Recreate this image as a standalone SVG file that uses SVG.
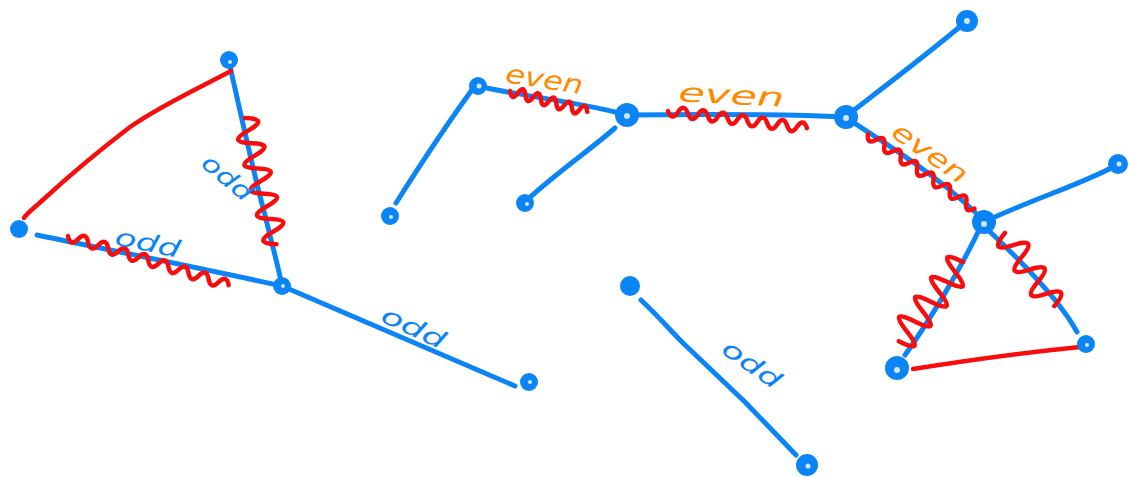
<svg xmlns="http://www.w3.org/2000/svg" width="1129" height="477" viewBox="0 0 1129 477">
<style>
.e{fill:none;stroke:#0b84f6;stroke-width:5;stroke-linecap:round;stroke-linejoin:round}
.r{fill:none;stroke:#f70d0d;stroke-width:4.5;stroke-linecap:round;stroke-linejoin:round}
.n{fill:#0b84f6}
.h{fill:#ffffff;opacity:0.8}
.odd{font-family:"DejaVu Sans",sans-serif;font-size:24px;fill:#0b84f6;font-style:italic}
.even{font-family:"DejaVu Sans",sans-serif;font-size:26px;fill:#ff8a00;font-style:italic}
</style>
<rect width="1129" height="477" fill="#ffffff"/>
<g id="connectors">
  <path class="e" d="M229,62 C240,110 255,180 265,215 C272,245 278,265 282,286"/>
  <path class="e" d="M37,235 C110,250 200,268 282,286"/>
  <path class="e" d="M282,286 C350,315 430,350 515,386"/>
  <path class="e" d="M474,87 C450,120 420,165 396,203"/>
  <path class="e" d="M478,86 C520,96 580,102 627,115"/>
  <path class="e" d="M615,128 C590,150 560,170 527,200"/>
  <path class="e" d="M627,115 C700,114 780,114 845,117"/>
  <path class="e" d="M845,117 C880,90 920,60 962,25"/>
  <path class="e" d="M845,117 C880,140 930,170 975,212"/>
  <path class="e" d="M984,222 C1030,200 1080,185 1115,166"/>
  <path class="e" d="M980,228 C960,270 930,320 905,355"/>
  <path class="e" d="M986,228 C1020,260 1060,300 1077,332"/>
  <path class="e" d="M641,300 C660,318 670,330 683,343 L745,402 L796,455"/>
  <path class="r" d="M231,71 C195,90 160,106 130,127 C100,150 70,175 45,198 C32,210 26,214 24,218"/>
  <path class="r" d="M913,369 C970,360 1030,352 1080,347"/>
  <path class="r" transform="translate(245,118) rotate(76)" d="M0,0 q6.5,-24 13,0 t13,0 t13,0 t13,0 t13,0 t13,0 t13,0 t13,0 t13,0 t13,0"/>
  <path class="r" transform="translate(68,236) rotate(17)" d="M0,0 q5.25,10 10.5,0 t10.5,0 t10.5,0 t10.5,0 t10.5,0 t10.5,0 t10.5,0 t10.5,0 t10.5,0 t10.5,0 t10.5,0 t10.5,0 t10.5,0 t10.5,0 t10.5,0 t10.5,0"/>
  <path class="r" transform="translate(510,91) rotate(15)" d="M0,0 q4,10 8,0 t8,0 t8,0 t8,0 t8,0 t8,0 t8,0 t8,0 t8,0 t8,0"/>
  <path class="r" transform="translate(668,111) rotate(7)" d="M0,0 q5,10 10,0 t10,0 t10,0 t10,0 t10,0 t10,0 t10,0 t10,0 t10,0 t10,0 t10,0 t10,0 t10,0 t10,0"/>
  <path class="r" transform="translate(868,134) rotate(35)" d="M0,0 q5,10 10,0 t10,0 t10,0 t10,0 t10,0 t10,0 t10,0 t10,0 t10,0 t10,0 t10,0 t10,0 t10,0"/>
  <path class="r" transform="translate(963,262) rotate(129)" d="M0,0 q6.4,30 12.75,0 t12.75,0 t12.75,0 t12.75,0 t12.75,0 t12.75,0 t12.75,0 t12.75,0"/>
  <path class="r" transform="translate(1005,233) rotate(56)" d="M0,0 q7.3,26 14.7,0 t14.7,0 t14.7,0 t14.7,0 t14.7,0 t14.7,0"/>
  <text class="odd" transform="translate(222,184) rotate(40)" text-anchor="middle" textLength="58" lengthAdjust="spacingAndGlyphs">odd</text>
  <text class="odd" transform="translate(146,251) rotate(12)" text-anchor="middle" textLength="66" lengthAdjust="spacingAndGlyphs">odd</text>
  <text class="odd" transform="translate(410,335) rotate(25)" text-anchor="middle" textLength="68" lengthAdjust="spacingAndGlyphs">odd</text>
  <text class="odd" transform="translate(747,371) rotate(35)" text-anchor="middle" textLength="66" lengthAdjust="spacingAndGlyphs">odd</text>
  <text class="even" transform="translate(543,88) rotate(9)" text-anchor="middle" textLength="78" lengthAdjust="spacingAndGlyphs">even</text>
  <text class="even" transform="translate(731,104) rotate(3)" text-anchor="middle" textLength="106" lengthAdjust="spacingAndGlyphs">even</text>
  <text class="even" transform="translate(925,160) rotate(35)" text-anchor="middle" textLength="86" lengthAdjust="spacingAndGlyphs">even</text>
</g>
<g id="nA"><circle class="n" cx="229" cy="60" r="9"/><circle class="h" cx="230" cy="62" r="2"/></g>
<g id="nB"><circle class="n" cx="19" cy="229" r="9"/></g>
<g id="nC"><circle class="n" cx="282" cy="286" r="9"/><circle class="h" cx="283" cy="286" r="2"/></g>
<g id="nD"><circle class="n" cx="529" cy="382" r="9"/><circle class="h" cx="530" cy="382" r="2"/></g>
<g id="nE"><circle class="n" cx="478" cy="86" r="9"/><circle class="h" cx="479" cy="86" r="2.5"/></g>
<g id="nF"><circle class="n" cx="390" cy="216" r="9"/><circle class="h" cx="391" cy="217" r="2"/></g>
<g id="nG"><circle class="n" cx="627" cy="115" r="12"/><circle class="h" cx="627" cy="116" r="3"/></g>
<g id="nH"><circle class="n" cx="525" cy="203" r="9"/><circle class="h" cx="527" cy="204" r="2"/></g>
<g id="nI"><circle class="n" cx="846" cy="117" r="12"/><circle class="h" cx="846" cy="118" r="3"/></g>
<g id="nJ"><circle class="n" cx="967" cy="21" r="11"/><circle class="h" cx="967" cy="21" r="3"/></g>
<g id="nK"><circle class="n" cx="984" cy="222" r="12"/><circle class="h" cx="984" cy="224" r="3"/></g>
<g id="nL"><circle class="n" cx="1118" cy="164" r="10"/><circle class="h" cx="1119" cy="164" r="2.5"/></g>
<g id="nM"><circle class="n" cx="897" cy="368" r="12"/><circle class="h" cx="897" cy="370" r="3"/></g>
<g id="nN"><circle class="n" cx="1086" cy="344" r="9"/><circle class="h" cx="1087" cy="345" r="2"/></g>
<g id="nO"><circle class="n" cx="630" cy="286" r="10"/></g>
<g id="nP"><circle class="n" cx="807" cy="465" r="11"/><circle class="h" cx="808" cy="466" r="2.5"/></g>
</svg>
